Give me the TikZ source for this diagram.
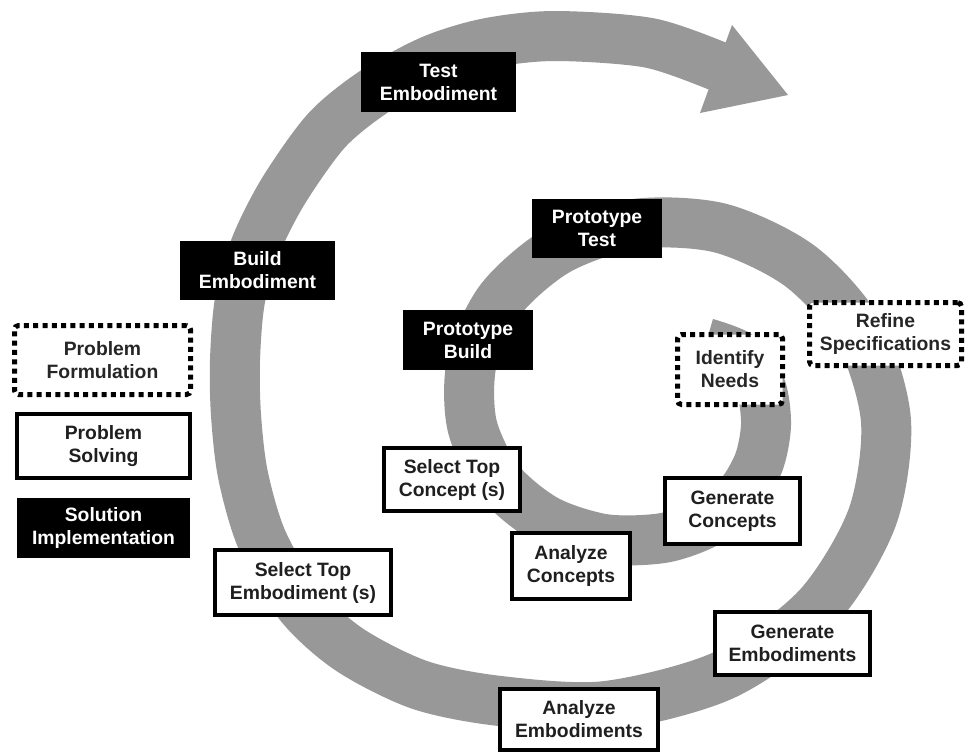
\documentclass[tikz,border=0pt]{standalone}
\usepackage{fontspec}
\setmainfont{Liberation Sans}
\definecolor{bandgray}{RGB}{152,152,152}
\tikzset{
  lbl/.style={font=\fontsize{14.5}{17.25}\selectfont\bfseries, align=center, inner sep=0pt},
  wbox/.style 2 args={lbl, draw=black, fill=white, line width=3pt,
    minimum width={(#1-4)*0.75pt}, minimum height={(#2-4)*0.75pt}, text=black!88},
  bbox/.style 2 args={lbl, fill=black,
    minimum width={#1*0.75pt}, minimum height={#2*0.75pt}, text=white},
  dbox/.style 2 args={lbl, draw=black, fill=white, line width=3.75pt,
    dash pattern=on 3.75pt off 3.2pt, rounded corners=3pt,
    minimum width={(#1-5)*0.75pt}, minimum height={(#2-5)*0.75pt}, text=black!85},
  band/.style={draw=bandgray, line width=37.5pt, line cap=butt, line join=round},
}
\begin{document}
\begin{tikzpicture}[x=0.75pt,y=-0.75pt]
\useasboundingbox (0,0) rectangle (967,754);
\fill[white] (0,0) rectangle (967,754);
% spiral band
\draw[band] plot[smooth,tension=0.5] coordinates {
  (706,343) (741,357) (761,388) (766,425) (759,462) (740,495) (708,522)
  (663,538) (604,539) (546,520) (499,481) (472,425) (472,361) (501,299)
  (558,250) (634,224) (720,228) (800,266) (859,332) (886,421) (872,518)
  (817,608) (724,675) (606,706) (500,701) (420,685) (350,650) (300,605)
  (262,540) (243,475) (236,415) (235,360) (240,300) (256,245) (284,190)
  (327,130) (375,91) (432,60) (488,43) (555,36) (650,43) (722,68)};
\fill[bandgray] (732,25) -- (788,95) -- (700,113) -- cycle;
% black boxes
\node[bbox={155}{60}] (testemb) at (438.5,82) {Test\\Embodiment};
\node[bbox={155}{59}] (buildemb) at (257.5,270.5) {Build\\Embodiment};
\node[bbox={130}{59}] (prottest) at (597,228.5) {Prototype\\Test};
\node[bbox={130}{60}] (protbuild) at (468,340) {Prototype\\Build};
\node[bbox={173}{60}] (solimpl) at (103.5,528) {Solution\\Implementation};
% dotted boxes
\node[dbox={110}{75}] (idneeds) at (730,369.5) {Identify\\Needs};
\node[dbox={157}{68}] (refspec) at (885.5,334) {Refine\\Specifications};
\node[dbox={181}{74}] (probform) at (102.5,360) {Problem\\Formulation};
% white boxes
\node[wbox={177}{68}] (probsolv) at (103.5,446) {Problem\\Solving};
\node[wbox={140}{67}] (stc) at (452,479.5) {Select Top\\Concept (s)};
\node[wbox={139}{70}] (gencon) at (732.5,511) {Generate\\Concepts};
\node[wbox={122}{70}] (anacon) at (571,566) {Analyze\\Concepts};
\node[wbox={180}{69}] (ste) at (303,582.5) {Select Top\\Embodiment (s)};
\node[wbox={159}{67}] (genemb) at (792.5,643.5) {Generate\\Embodiments};
\node[wbox={162}{65}] (anaemb) at (579,719.5) {Analyze\\Embodiments};
\end{tikzpicture}
\end{document}
